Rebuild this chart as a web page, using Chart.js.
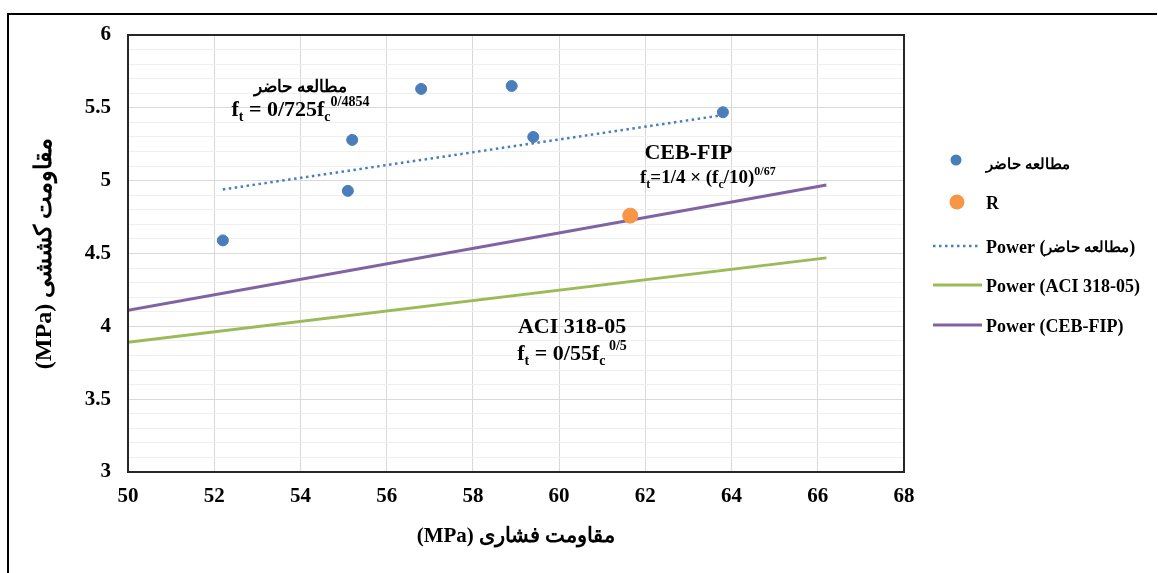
<!DOCTYPE html>
<html>
<head>
<meta charset="utf-8">
<script src="https://cdn.jsdelivr.net/npm/chart.js@4"></script>
<style>
  html, body { margin: 0; padding: 0; background: #fff; }
</style>
</head>
<body>
<canvas id="js--chart" width="1158" height="573"></canvas>
<script>
const fcValues = [52.2, 55.1, 55.2, 56.8, 58.9, 59.4, 63.8];
const ftValues = [4.59, 4.93, 5.28, 5.63, 5.65, 5.30, 5.47];
const rX = [61.65];
const rY = [4.76];

// trend line and code curves, read at their ends
const trendX = [52.2, 63.8];
const trendY = [4.94, 5.45];
const aciX = [50, 66.2];
const aciY = [3.89, 4.47];
const cebX = [50, 66.2];
const cebY = [4.11, 4.97];

// axes
const xMin = 50, xMax = 68, xStep = 2;
const yMin = 3, yMax = 6, yStep = 0.1, yMajor = 0.5;

const labels = ['مطالعه حاضر', 'R', 'Power (مطالعه حاضر)', 'Power (ACI 318-05)', 'Power (CEB-FIP)'];

const serif = "'Liberation Serif', 'Times New Roman', serif";
const blue = '#4a7ebb';
const orange = '#f79646';
const green = '#9bbb59';
const purple = '#8064a2';

function pts(xs, ys) {
  return xs.map((x, i) => ({ x: x, y: ys[i] }));
}

function isMajor(v) {
  return Math.abs(v / yMajor - Math.round(v / yMajor)) < 1e-6;
}

// draws text made of pieces (normal / sub / sup / arabic), centred on cx
function drawRuns(ctx, runs, cx, cy, big) {
  big = big || 22;
  const small = Math.round(big * 0.64);
  const fontOf = k => 'bold ' + (k === 'n' ? big : k === 'ar' ? 17 : small) + 'px ' + serif;
  let w = 0;
  runs.forEach(r => {
    ctx.font = fontOf(r[1]);
    w += ctx.measureText(r[0]).width;
  });
  let x = cx - w / 2;
  ctx.textAlign = 'left';
  ctx.textBaseline = 'alphabetic';
  runs.forEach(r => {
    ctx.font = fontOf(r[1]);
    let dy = 0;
    if (r[1] === 'sub') dy = big * 0.23;
    if (r[1] === 'sup') dy = -big * 0.45;
    ctx.fillText(r[0], x, cy + 7 + dy);
    x += ctx.measureText(r[0]).width;
  });
}

const notes = [
  { x: 54, y: 5.66, runs: [['مطالعه حاضر', 'ar']] },
  { x: 54, y: 5.49, runs: [['f', 'n'], ['t', 'sub'], [' = 0/725f', 'n'], ['c', 'sub'], ['0/4854', 'sup']] },
  { x: 63.0, y: 5.20, runs: [['CEB-FIP', 'n']] },
  { x: 63.45, y: 5.03, size: 19, runs: [['f', 'n'], ['t', 'sub'], ['=1/4 × (f', 'n'], ['c', 'sub'], ['/10)', 'n'], ['0/67', 'sup']] },
  { x: 60.3, y: 4.0, runs: [['ACI 318-05', 'n']] },
  { x: 60.3, y: 3.82, runs: [['f', 'n'], ['t', 'sub'], [' = 0/55f', 'n'], ['c', 'sub'], [' 0/5', 'sup']] },
];

// legend text: latin at 18px, arabic parts a bit smaller
function drawLegendText(ctx, text, x, y) {
  const parts = text.split(/([\u0600-\u06FF][\u0600-\u06FF ]*[\u0600-\u06FF])/).filter(p => p);
  ctx.textAlign = 'left';
  ctx.textBaseline = 'middle';
  parts.forEach(p => {
    const ar = /[\u0600-\u06FF]/.test(p);
    ctx.font = 'bold ' + (ar ? 15 : 18) + 'px ' + serif;
    ctx.fillText(p, x, y);
    x += ctx.measureText(p).width;
  });
}

const extras = {
  id: 'extras',
  beforeDraw(chart) {
    const ctx = chart.ctx;
    ctx.save();
    ctx.fillStyle = '#fff';
    ctx.fillRect(0, 0, chart.width, chart.height);
    ctx.restore();
  },
  afterDraw(chart) {
    const ctx = chart.ctx;
    const a = chart.chartArea;
    const sx = chart.scales.x, sy = chart.scales.y;
    ctx.save();

    // outer frame (only left and top show)
    ctx.strokeStyle = '#000';
    ctx.lineWidth = 2;
    ctx.beginPath();
    ctx.moveTo(8, 580);
    ctx.lineTo(8, 14);
    ctx.lineTo(1157, 14);
    ctx.stroke();

    // plot border
    ctx.strokeStyle = '#262626';
    ctx.lineWidth = 2;
    ctx.strokeRect(a.left, a.top, a.right - a.left, a.bottom - a.top);

    // annotations
    ctx.fillStyle = '#000';
    notes.forEach(n => drawRuns(ctx, n.runs, sx.getPixelForValue(n.x), sy.getPixelForValue(n.y), n.size));

    // legend
    const rowsY = [163, 202, 246, 285, 325];
    chart.data.datasets.forEach((ds, i) => {
      const y = rowsY[i];
      ctx.setLineDash([]);
      if (ds.type === 'line') {
        ctx.strokeStyle = ds.borderColor;
        ctx.lineWidth = ds.borderWidth;
        ctx.setLineDash(ds.borderDash || []);
        ctx.beginPath();
        ctx.moveTo(933, y);
        ctx.lineTo(ds.borderDash ? 978 : 982, y);
        ctx.stroke();
      } else {
        ctx.fillStyle = ds.backgroundColor;
        ctx.beginPath();
        ctx.arc(i === 0 ? 956 : 957, i === 0 ? y - 3 : y, ds.pointRadius, 0, Math.PI * 2);
        ctx.fill();
      }
      ctx.setLineDash([]);
      ctx.fillStyle = '#000';
      drawLegendText(ctx, ds.label, 986, y + 2);
    });
    ctx.restore();
  }
};

const config = {
  type: 'scatter',
  data: {
    datasets: [
      {
        label: labels[0],
        data: pts(fcValues, ftValues),
        backgroundColor: blue,
        borderColor: blue,
        pointRadius: 5.5,
        pointHoverRadius: 5.5
      },
      {
        label: labels[1],
        data: pts(rX, rY),
        backgroundColor: orange,
        borderColor: orange,
        pointRadius: 7.5,
        pointHoverRadius: 7.5
      },
      {
        type: 'line',
        label: labels[2],
        data: pts(trendX, trendY),
        borderColor: blue,
        borderWidth: 2.5,
        borderDash: [2.5, 3.5],
        pointRadius: 0,
        fill: false
      },
      {
        type: 'line',
        label: labels[3],
        data: pts(aciX, aciY),
        borderColor: green,
        borderWidth: 3,
        pointRadius: 0,
        fill: false
      },
      {
        type: 'line',
        label: labels[4],
        data: pts(cebX, cebY),
        borderColor: purple,
        borderWidth: 3,
        pointRadius: 0,
        fill: false
      }
    ]
  },
  options: {
    responsive: false,
    animation: false,
    devicePixelRatio: 1,
    layout: { padding: { left: 0, right: 254, top: 35, bottom: 0 } },
    plugins: {
      legend: { display: false },
      tooltip: { enabled: false }
    },
    scales: {
      x: {
        type: 'linear',
        min: xMin,
        max: xMax,
        afterFit: s => { s.height = 101; },
        border: { display: false },
        grid: { color: '#d9d9d9', drawTicks: false },
        ticks: {
          stepSize: xStep,
          padding: 12,
          color: '#000',
          font: { family: serif, size: 21, weight: 'bold' }
        },
        title: {
          display: true,
          text: '(MPa) مقاومت فشاری',
          color: '#000',
          font: { family: serif, size: 21, weight: 'bold' },
          padding: { top: 0, bottom: 24 }
        }
      },
      y: {
        min: yMin,
        max: yMax,
        afterFit: s => { s.width = 128; },
        border: { display: false },
        grid: {
          drawTicks: false,
          color: c => isMajor(c.tick.value) ? '#d9d9d9' : '#efefef'
        },
        ticks: {
          stepSize: yStep,
          autoSkip: false,
          padding: 17,
          color: '#000',
          font: { family: serif, size: 21, weight: 'bold' },
          callback: v => isMajor(v) ? String(+v.toFixed(1)) : ''
        },
        title: {
          display: true,
          text: '(MPa) مقاومت کششی',
          color: '#000',
          font: { family: serif, size: 24, weight: 'bold' },
          padding: { top: 30, bottom: 0 }
        }
      }
    }
  },
  plugins: [extras]
};

const chart1 = new Chart(document.getElementById('js--chart'), config);
</script>
</body>
</html>
